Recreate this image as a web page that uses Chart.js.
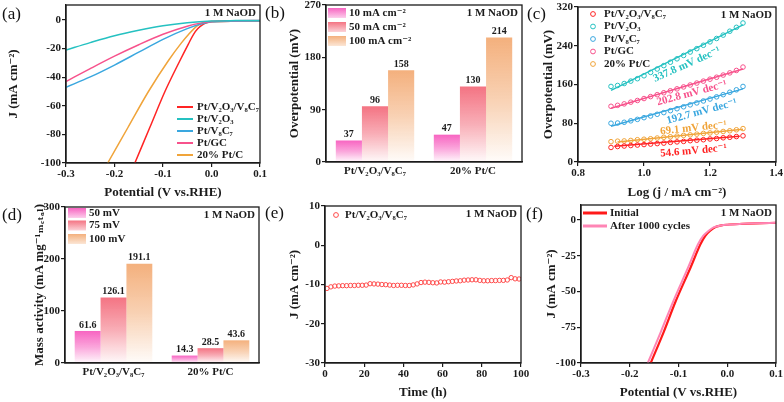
<!DOCTYPE html>
<html>
<head>
<meta charset="utf-8">
<title>HER performance in 1 M NaOD</title>
<script src="https://cdn.jsdelivr.net/npm/chart.js@4.4.1/dist/chart.umd.min.js"></script>
<style>
  html, body { margin: 0; padding: 0; background: #fff; }
  body { position: relative; width: 784px; height: 402px; overflow: hidden; }
  canvas { position: absolute; }
  .tag { position: absolute; font: 17px "Liberation Serif", "Times New Roman", serif; color: #111; line-height: 1; }
</style>
</head>
<body>
<canvas id="chartA" width="272" height="200" style="left:0;top:0"></canvas>
<canvas id="chartB" width="272" height="200" style="left:262px;top:0"></canvas>
<canvas id="chartC" width="260" height="200" style="left:524px;top:0"></canvas>
<canvas id="chartD" width="272" height="202" style="left:0;top:200px"></canvas>
<canvas id="chartE" width="272" height="202" style="left:262px;top:200px"></canvas>
<canvas id="chartF" width="260" height="202" style="left:524px;top:200px"></canvas>
<div class="tag" style="left:2px;top:5px">(a)</div>
<div class="tag" style="left:265px;top:4px">(b)</div>
<div class="tag" style="left:527px;top:5px">(c)</div>
<div class="tag" style="left:2px;top:206px">(d)</div>
<div class="tag" style="left:265px;top:204px">(e)</div>
<div class="tag" style="left:526px;top:205px">(f)</div>

<script>
const SERIF = '"Liberation Serif", "DejaVu Serif", "Times New Roman", serif';
const INK = '#1b1b1b';
const RED = '#ff2424', CYAN = '#25c1c1', BLUE = '#3aa7df', PINK = '#f7528c', ORANGE = '#f0a43a';

// --- (a) polarization curves: [potential (V vs RHE), J (mA cm-2)]
const aPtV2O3V8C7 = [[-0.158,-100],[-0.127,-75],[-0.096,-50],[-0.066,-29],[-0.048,-17],[-0.037,-10],[-0.028,-6],[-0.018,-3.2],[-0.008,-1.8],[0.01,-1.1],[0.05,-0.9],[0.1,-0.8]];
const aPtV2O3 = [[-0.3,-21],[-0.25,-15.8],[-0.2,-11],[-0.15,-7.2],[-0.1,-4],[-0.05,-1.9],[0,-0.7],[0.05,-0.4],[0.1,-0.3]];
const aPtV8C7 = [[-0.3,-47],[-0.25,-39.8],[-0.2,-31.5],[-0.15,-22.5],[-0.1,-13.5],[-0.05,-6],[-0.02,-2.6],[0,-1.3],[0.05,-0.8],[0.1,-0.7]];
const aPtGC = [[-0.3,-43],[-0.25,-34],[-0.2,-25.3],[-0.15,-17.3],[-0.1,-10],[-0.05,-4.3],[-0.02,-2],[0,-1],[0.05,-0.5],[0.1,-0.4]];
const aPtC = [[-0.214,-100],[-0.172,-75],[-0.13,-50],[-0.088,-28],[-0.062,-16],[-0.047,-10],[-0.036,-6],[-0.026,-3.2],[-0.015,-1.7],[0,-1],[0.05,-0.8],[0.1,-0.7]];
const potTicks = [-0.3, -0.2, -0.1, 0.0, 0.1];
const aYTicks = [0, -20, -40, -60, -80, -100];

// --- (b) overpotential at 10 / 50 / 100 mA cm-2
const catalysts = ['Pt/V₂O₃/V₈C₇', '20% Pt/C'];
const eta10 = [37, 47];
const eta50 = [96, 130];
const eta100 = [158, 214];
const bYTicks = [0, 90, 180, 270];

// --- (c) Tafel plots
const tafelLogJ = [0.90,0.92,0.94,0.96,0.98,1.00,1.02,1.04,1.06,1.08,1.10,1.12,1.14,1.16,1.18,1.20,1.22,1.24,1.26,1.28,1.30];
const tafelPtV2O3V8C7 = [30,32,33,34,35,36,37,38,39,40.5,41.5,42.5,44,45,46,47.5,48.5,50,51,52.5,54];
const tafelPtV2O3 = [156,158,162,167,172,178,185,192,199,206,213,220,227,234,241,248,255,262,270,278,287];
const tafelPtV8C7 = [80,80.5,82,85,88,91.5,95,98.5,102,106,110,114,118,122,126,130,134.5,139,144,149,156];
const tafelPtGC = [115,117,120,123.5,127,131,135,139,143,147,151,155,159,163,167,171,175,179.5,184,189,196];
const tafelPtC = [42,43,43.5,44.5,46,47,48,49.5,51,52,53.5,55,56,57.5,59,60,61.5,63,64.5,66.5,69];
const fitPtV2O3V8C7 = [[0.91,32.5],[1.29,53.2]];
const fitPtV2O3 = [[0.90,148],[1.30,283]];
const fitPtV8C7 = [[0.90,74],[1.30,151]];
const fitPtGC = [[0.90,111],[1.30,192]];
const fitPtC = [[0.92,41.4],[1.30,67.6]];
const cXTicks = [0.8, 1.0, 1.2, 1.4];
const cYTicks = [0, 80, 160, 240, 320];

// --- (d) mass activity at 50 / 75 / 100 mV
const ma50 = [61.6, 14.3];
const ma75 = [126.1, 28.5];
const ma100 = [191.1, 43.6];
const dYTicks = [0, 100, 200, 300];

// --- (e) chronoamperometry
const stabTime = [1,3,5,7,9,11,13,15,17,19,21,23,25,27,29,31,33,35,37,39,41,43,45,47,49,51,53,55,57,59,61,63,65,67,69,71,73,75,77,79,81,83,85,87,89,91,93,95,97,99];
const stabJ = [-11.0,-10.6,-10.4,-10.35,-10.3,-10.3,-10.25,-10.25,-10.2,-10.2,-10.15,-9.8,-9.85,-9.9,-10.0,-10.05,-10.15,-10.25,-10.2,-10.2,-10.25,-10.25,-10.1,-9.85,-9.5,-9.4,-9.45,-9.55,-9.6,-9.35,-9.4,-9.3,-9.2,-9.1,-9.05,-8.9,-8.85,-8.8,-8.8,-8.95,-9.05,-9.05,-9.0,-9.0,-8.95,-8.95,-8.85,-8.25,-8.55,-8.6];
const eXTicks = [0, 20, 40, 60, 80, 100];
const eYTicks = [10, 0, -10, -20, -30];

// --- (f) before / after 1000 cycles
const fInitial = [[-0.157,-100],[-0.13,-78],[-0.106,-57],[-0.075,-33],[-0.055,-17],[-0.045,-11],[-0.035,-7.5],[-0.025,-5],[-0.012,-3.8],[0,-3.3],[0.03,-2.7],[0.06,-2.3],[0.1,-2.0]];
const fAfter = [[-0.163,-100],[-0.136,-78],[-0.111,-57],[-0.08,-33],[-0.06,-17],[-0.049,-11],[-0.038,-7.5],[-0.027,-5],[-0.013,-3.8],[0,-3.3],[0.03,-2.7],[0.06,-2.3],[0.1,-2.0]];
const fYTicks = [0, -25, -50, -75, -100];

const xy = arr => arr.map(([x, y]) => ({ x, y }));
const pairs = (xs, ys) => xs.map((x, i) => ({ x, y: ys[i] }));
const bold = size => ({ family: SERIF, size, weight: 'bold' });

// box around the plot area
const frame = {
  id: 'frame',
  afterDraw(chart) {
    const a = chart.chartArea, ctx = chart.ctx;
    ctx.save();
    ctx.strokeStyle = INK;
    ctx.lineWidth = 1.3;
    ctx.strokeRect(a.left, a.top, a.right - a.left, a.bottom - a.top);
    ctx.restore();
  }
};

// legend entries and free text drawn inside the panel
function overlay(items, notes) {
  return {
    id: 'overlay',
    afterDraw(chart) {
      const ctx = chart.ctx, a = chart.chartArea;
      ctx.save();
      ctx.textBaseline = 'middle';
      items.forEach(it => {
        if (it.mark === 'line') {
          ctx.strokeStyle = it.color;
          ctx.lineWidth = it.lw || 2;
          ctx.beginPath();
          ctx.moveTo(it.x, it.y);
          ctx.lineTo(it.x + it.len, it.y);
          ctx.stroke();
        } else if (it.mark === 'circle') {
          ctx.strokeStyle = it.color;
          ctx.lineWidth = 1;
          ctx.beginPath();
          ctx.arc(it.x, it.y, 2.4, 0, Math.PI * 2);
          ctx.stroke();
        } else if (it.mark === 'box') {
          const g = ctx.createLinearGradient(0, it.y - 5, 0, it.y + 5);
          g.addColorStop(0, `rgba(${it.color},0.95)`);
          g.addColorStop(1, `rgba(${it.color},0.3)`);
          ctx.fillStyle = g;
          ctx.fillRect(it.x, it.y - 5, 18, 10);
        }
        ctx.fillStyle = INK;
        ctx.font = `bold 11px ${SERIF}`;
        ctx.textAlign = 'left';
        ctx.fillText(it.label, it.tx, it.y);
      });
      // condition label
      ctx.font = `bold 11px ${SERIF}`;
      ctx.textAlign = 'right';
      ctx.fillStyle = INK;
      ctx.fillText('1 M NaOD', a.right - 4, a.top + 8);
      (notes || []).forEach(n => {
        const x = chart.scales.x.getPixelForValue(n.at[0]);
        const y = chart.scales.y.getPixelForValue(n.at[1]);
        ctx.save();
        ctx.translate(x, y);
        ctx.rotate(n.angle * Math.PI / 180);
        ctx.font = `bold 11px ${SERIF}`;
        ctx.textAlign = 'center';
        ctx.fillStyle = n.color;
        ctx.fillText(n.text, 0, 0);
        ctx.restore();
      });
      ctx.restore();
    }
  };
}

// value labels above the bars
const barValues = {
  id: 'barValues',
  afterDatasetsDraw(chart) {
    const ctx = chart.ctx;
    ctx.save();
    ctx.font = `bold 10px ${SERIF}`;
    ctx.fillStyle = INK;
    ctx.textAlign = 'center';
    ctx.textBaseline = 'bottom';
    chart.data.datasets.forEach((ds, i) => {
      chart.getDatasetMeta(i).data.forEach((el, j) => {
        ctx.fillText(String(ds.data[j]), el.x, el.y - 1);
      });
    });
    ctx.restore();
  }
};

function barFill(rgb) {
  return ctx => {
    const c = ctx.chart, a = c.chartArea;
    if (!a || ctx.type !== 'data') return `rgb(${rgb})`;
    const top = c.scales.y.getPixelForValue(ctx.raw);
    const g = c.ctx.createLinearGradient(0, top, 0, a.bottom);
    g.addColorStop(0, `rgba(${rgb},0.95)`);
    g.addColorStop(0.5, `rgba(${rgb},0.55)`);
    g.addColorStop(1, `rgba(${rgb},0.04)`);
    return g;
  };
}

function linAxis(min, max, ticks, title, titlePad, fmt) {
  return {
    type: 'linear', min, max,
    afterBuildTicks: s => { s.ticks = ticks.map(v => ({ value: v })); },
    ticks: { color: INK, font: bold(11), padding: 1, callback: fmt || (v => v) },
    grid: { drawOnChartArea: false, drawTicks: true, tickLength: 4, color: INK, lineWidth: 1.2 },
    border: { display: true, color: INK, width: 1.3 },
    title: title ? { display: true, text: title, color: INK, font: bold(13), padding: titlePad } : { display: false }
  };
}

function catAxis() {
  return {
    type: 'category',
    ticks: { color: INK, font: bold(11), padding: 3 },
    grid: { drawOnChartArea: false, drawTicks: false },
    border: { display: true, color: INK, width: 1.3 }
  };
}

function build(id, area, type, data, scales, extra) {
  const cv = document.getElementById(id);
  const w = cv.width, h = cv.height;
  scales.x.afterFit = s => { s.height = h - area.b; s.paddingLeft = 0; s.paddingRight = 0; };
  scales.y.afterFit = s => { s.width = area.l; s.paddingTop = 0; s.paddingBottom = 0; };
  return new Chart(cv, {
    type, data,
    options: {
      responsive: false, animation: false, devicePixelRatio: 1,
      layout: { padding: { left: 0, top: area.t, right: w - area.r, bottom: 0 } },
      plugins: { legend: { display: false }, tooltip: { enabled: false } },
      scales
    },
    plugins: [frame, ...extra]
  });
}

const curve = (label, pts, color, width) => ({
  label, data: xy(pts), borderColor: color, borderWidth: width || 1.5,
  pointRadius: 0, cubicInterpolationMode: 'monotone', fill: false
});
const fmt1 = v => v.toFixed(1);

// (a)
build('chartA', { l: 66, t: 5, r: 260, b: 163 }, 'line', {
  datasets: [
    curve('Pt/V₂O₃', aPtV2O3, CYAN),
    curve('Pt/GC', aPtGC, PINK),
    curve('Pt/V₈C₇', aPtV8C7, BLUE),
    curve('20% Pt/C', aPtC, ORANGE),
    curve('Pt/V₂O₃/V₈C₇', aPtV2O3V8C7, RED)
  ]
}, {
  x: linAxis(-0.3, 0.1, potTicks, 'Potential (V vs.RHE)', { top: 0, bottom: 0 }, fmt1),
  y: linAxis(-100, 10.5, aYTicks, 'J (mA cm⁻²)', { top: 6, bottom: 0 })
}, [overlay([
  { mark: 'line', color: RED, x: 177, len: 16, y: 107, tx: 197, label: 'Pt/V₂O₃/V₈C₇' },
  { mark: 'line', color: CYAN, x: 177, len: 16, y: 119, tx: 197, label: 'Pt/V₂O₃' },
  { mark: 'line', color: BLUE, x: 177, len: 16, y: 131, tx: 197, label: 'Pt/V₈C₇' },
  { mark: 'line', color: PINK, x: 177, len: 16, y: 143, tx: 197, label: 'Pt/GC' },
  { mark: 'line', color: ORANGE, x: 177, len: 16, y: 155, tx: 197, label: '20% Pt/C' }
])]);

// (b)
const PINK_RGB = '247,92,190', SALMON_RGB = '243,108,124', PEACH_RGB = '243,172,118';
const bars = (label, values, rgb) => ({
  label, data: values, backgroundColor: barFill(rgb), borderWidth: 0,
  categoryPercentage: 0.8, barPercentage: 1.0
});
build('chartB', { l: 64, t: 5, r: 260, b: 162 }, 'bar', {
  labels: catalysts,
  datasets: [
    bars('10 mA cm⁻²', eta10, PINK_RGB),
    bars('50 mA cm⁻²', eta50, SALMON_RGB),
    bars('100 mA cm⁻²', eta100, PEACH_RGB)
  ]
}, {
  x: catAxis(),
  y: linAxis(0, 270, bYTicks, 'Overpotential (mV)', { top: 25, bottom: 0 })
}, [barValues, overlay([
  { mark: 'box', color: PINK_RGB, x: 66, y: 13, tx: 87, label: '10 mA cm⁻²' },
  { mark: 'box', color: SALMON_RGB, x: 66, y: 27, tx: 87, label: '50 mA cm⁻²' },
  { mark: 'box', color: PEACH_RGB, x: 66, y: 41, tx: 87, label: '100 mA cm⁻²' }
])]);

// (c)
const dots = (label, ys, color) => ({
  label, data: pairs(tafelLogJ, ys), showLine: false, borderColor: color,
  backgroundColor: 'rgba(255,255,255,0)', pointRadius: 2.3, pointBorderWidth: 1
});
const fit = (label, pts, color) => ({
  label, data: xy(pts), borderColor: color, borderWidth: 1.5, pointRadius: 0, fill: false
});
build('chartC', { l: 54, t: 7, r: 252, b: 162 }, 'line', {
  datasets: [
    dots('Pt/V₂O₃/V₈C₇', tafelPtV2O3V8C7, RED), fit('fit', fitPtV2O3V8C7, RED),
    dots('Pt/V₂O₃', tafelPtV2O3, CYAN), fit('fit', fitPtV2O3, CYAN),
    dots('Pt/V₈C₇', tafelPtV8C7, BLUE), fit('fit', fitPtV8C7, BLUE),
    dots('Pt/GC', tafelPtGC, PINK), fit('fit', fitPtGC, PINK),
    dots('20% Pt/C', tafelPtC, ORANGE), fit('fit', fitPtC, ORANGE)
  ]
}, {
  x: linAxis(0.8, 1.4, cXTicks, 'Log (j / mA cm⁻²)', { top: 0, bottom: 0 }, fmt1),
  y: linAxis(0, 320, cYTicks, 'Overpotential (mV)', { top: 17, bottom: 0 })
}, [overlay([
  { mark: 'circle', color: RED, x: 69, y: 14, tx: 80, label: 'Pt/V₂O₃/V₈C₇' },
  { mark: 'circle', color: CYAN, x: 69, y: 26.5, tx: 80, label: 'Pt/V₂O₃' },
  { mark: 'circle', color: BLUE, x: 69, y: 39, tx: 80, label: 'Pt/V₈C₇' },
  { mark: 'circle', color: PINK, x: 69, y: 51.5, tx: 80, label: 'Pt/GC' },
  { mark: 'circle', color: ORANGE, x: 69, y: 64, tx: 80, label: '20% Pt/C' }
], [
  { text: '337.8 mV dec⁻¹', at: [1.13, 201], angle: -24, color: CYAN },
  { text: '202.8 mV dec⁻¹', at: [1.145, 142], angle: -15, color: PINK },
  { text: '192.7 mV dec⁻¹', at: [1.175, 104], angle: -15, color: BLUE },
  { text: '69.1 mV dec⁻¹', at: [1.15, 70], angle: -6, color: ORANGE },
  { text: '54.6 mV dec⁻¹', at: [1.15, 23], angle: -5, color: RED }
])]);

// (d)
build('chartD', { l: 65, t: 7, r: 259, b: 163 }, 'bar', {
  labels: catalysts,
  datasets: [
    bars('50 mV', ma50, PINK_RGB),
    bars('75 mV', ma75, SALMON_RGB),
    bars('100 mV', ma100, PEACH_RGB)
  ]
}, {
  x: catAxis(),
  y: linAxis(0, 300, dYTicks, 'Mass activity (mA mg⁻¹ₘₑₜₐₗ)', { top: 32, bottom: 0 })
}, [barValues, overlay([
  { mark: 'box', color: PINK_RGB, x: 68, y: 13, tx: 89, label: '50 mV' },
  { mark: 'box', color: SALMON_RGB, x: 68, y: 25.5, tx: 89, label: '75 mV' },
  { mark: 'box', color: PEACH_RGB, x: 68, y: 39, tx: 89, label: '100 mV' }
])]);

// (e)
build('chartE', { l: 63, t: 6, r: 259, b: 163 }, 'line', {
  datasets: [{
    label: 'Pt/V₂O₃/V₈C₇', data: pairs(stabTime, stabJ), showLine: false,
    borderColor: '#ff4a4a', backgroundColor: 'rgba(255,255,255,0)', pointRadius: 2.2, pointBorderWidth: 1
  }]
}, {
  x: linAxis(0, 100, eXTicks, 'Time (h)', { top: 0, bottom: 2 }),
  y: linAxis(-30, 10, eYTicks, 'J (mA cm⁻²)', { top: 25, bottom: 0 })
}, [overlay([
  { mark: 'circle', color: '#ff4a4a', x: 74, y: 15, tx: 83, label: 'Pt/V₂O₃/V₈C₇' }
])]);

// (f)
build('chartF', { l: 57, t: 5, r: 252, b: 163 }, 'line', {
  datasets: [
    curve('After 1000 cycles', fAfter, '#ff85b5', 2),
    curve('Initial', fInitial, '#ff1a1a', 2.2)
  ]
}, {
  x: linAxis(-0.3, 0.1, potTicks, 'Potential (V vs.RHE)', { top: 0, bottom: 2 }, fmt1),
  y: linAxis(-100, 10.5, fYTicks, 'J (mA cm⁻²)', { top: 20, bottom: 0 })
}, [overlay([
  { mark: 'line', color: '#ff1a1a', x: 59, len: 24, y: 13, lw: 3, tx: 86, label: 'Initial' },
  { mark: 'line', color: '#ff85b5', x: 59, len: 24, y: 26, lw: 3, tx: 86, label: 'After 1000 cycles' }
])]);
</script>
</body>
</html>
